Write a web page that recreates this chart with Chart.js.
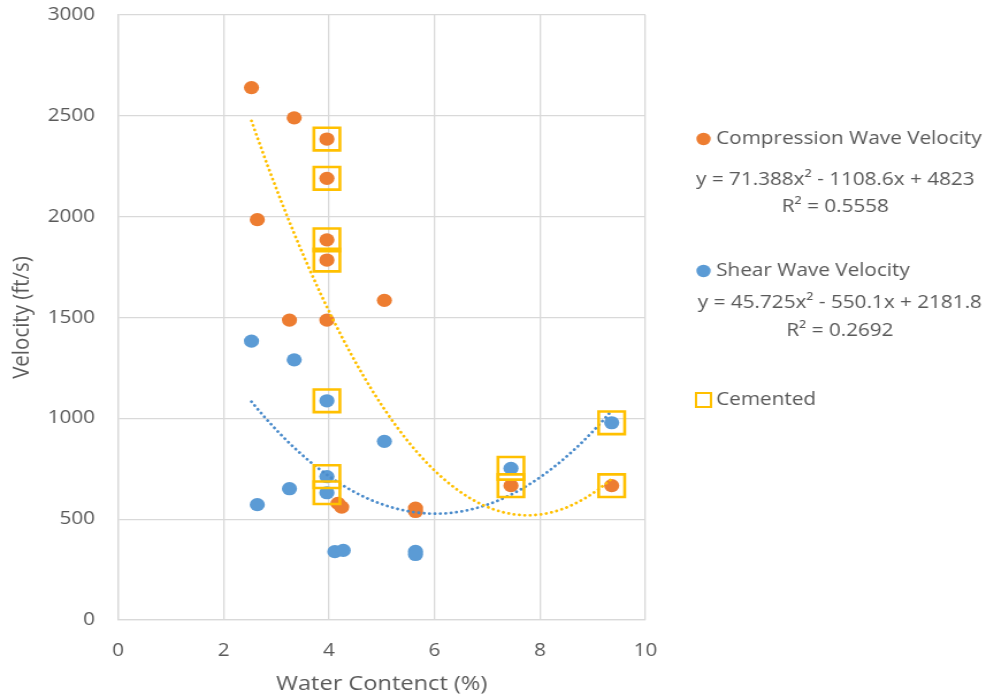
<!DOCTYPE html>
<html>
<head>
<meta charset="utf-8">
<script src="https://cdn.jsdelivr.net/npm/chart.js@4.4.1/dist/chart.umd.min.js"></script>
<style>
  html, body { margin: 0; padding: 0; background: #fff; overflow: hidden; }
  /* the figure is laid out on a narrower canvas and widened horizontally */
  #wrap { width: 864px; height: 700px; transform: scaleX(1.1505); transform-origin: 0 0; }
</style>
</head>
<body>
<div id="wrap"><canvas id="chart" width="864" height="700"></canvas></div>
<script>
// Water content (%) and measured velocities (ft/s)
const compressionX = [2.53, 3.34, 2.64, 3.25, 3.96, 5.05, 4.17, 4.24, 5.64, 5.64, 3.96, 3.96, 3.96, 3.96, 7.45, 9.36];
const compressionY = [2640, 2490, 1985, 1487, 1487, 1585, 578, 560, 555, 538, 2385, 2190, 1885, 1785, 666, 666];

const shearX = [2.53, 3.34, 5.05, 3.25, 2.64, 4.11, 4.27, 5.64, 5.64, 3.96, 3.96, 3.96, 7.45, 9.36];
const shearY = [1383, 1290, 886, 651, 572, 339, 345, 340, 325, 1087, 711, 631, 752, 978];

// cemented samples (outlined)
const cementedX = [3.96, 3.96, 3.96, 3.96, 3.96, 3.96, 3.96, 7.45, 7.45, 9.36, 9.36];
const cementedY = [2385, 2190, 1885, 1785, 1087, 711, 631, 752, 666, 978, 666];

// polynomial trendline coefficients [a, b, c] for y = a x^2 + b x + c
const compressionFit = [71.388, -1108.6, 4823];
const shearFit = [45.725, -550.1, 2181.8];

const xTicks = [0, 2, 4, 6, 8, 10];
const yTicks = [0, 500, 1000, 1500, 2000, 2500, 3000];

const legendText = {
  compression: 'Compression Wave Velocity',
  compressionEq: 'y = 71.388x\u00B2 - 1108.6x + 4823',
  compressionR2: 'R\u00B2 = 0.5558',
  shear: 'Shear Wave Velocity',
  shearEq: 'y = 45.725x\u00B2 - 550.1x + 2181.8',
  shearR2: 'R\u00B2 = 0.2692',
  cemented: 'Cemented'
};

const ORANGE = '#ED7D31';
const BLUE = '#5B9BD5';
const GOLD = '#FFC000';
const TEXT = '#595959';
const GRID = '#D9D9D9';
const FONT = '"Open Sans", "Noto Sans", sans-serif';

const toPoints = (xs, ys) => xs.map((x, i) => ({ x, y: ys[i] }));

// trendline evaluated over the range of the measured water contents
function fitCurve(coef, xs) {
  const lo = Math.min(...xs), hi = Math.max(...xs);
  const pts = [];
  const n = 120;
  for (let i = 0; i <= n; i++) {
    const x = lo + (hi - lo) * i / n;
    pts.push({ x, y: coef[0] * x * x + coef[1] * x + coef[2] });
  }
  return pts;
}

const sideLegend = {
  id: 'sideLegend',
  afterDraw(chart) {
    const ctx = chart.ctx;
    ctx.save();
    ctx.font = '18px ' + FONT;
    ctx.fillStyle = TEXT;
    ctx.textBaseline = 'middle';

    const markX = 611.5, textX = 622.5;

    // compression wave entry
    ctx.fillStyle = ORANGE;
    ctx.beginPath(); ctx.arc(markX, 139, 6.2, 0, Math.PI * 2); ctx.fill();
    ctx.fillStyle = TEXT;
    ctx.textAlign = 'left';
    ctx.fillText(legendText.compression, textX, 139);
    ctx.textAlign = 'center';
    ctx.fillText(legendText.compressionEq, 726, 180);
    ctx.fillText(legendText.compressionR2, 726, 207);

    // shear wave entry
    ctx.fillStyle = BLUE;
    ctx.beginPath(); ctx.arc(markX, 271, 6.2, 0, Math.PI * 2); ctx.fill();
    ctx.fillStyle = TEXT;
    ctx.textAlign = 'left';
    ctx.fillText(legendText.shear, textX, 271);
    ctx.textAlign = 'center';
    ctx.fillText(legendText.shearEq, 730, 303);
    ctx.fillText(legendText.shearR2, 730, 331);

    // cemented entry
    ctx.strokeStyle = GOLD;
    ctx.lineWidth = 2;
    ctx.strokeRect(markX - 6.5, 400 - 7, 13, 14);
    ctx.textAlign = 'left';
    ctx.fillText(legendText.cemented, textX, 400);

    ctx.restore();
  }
};

new Chart(document.getElementById('chart'), {
  type: 'scatter',
  data: {
    datasets: [
      {
        label: 'Cemented',
        data: toPoints(cementedX, cementedY),
        pointStyle: 'rect',
        pointRadius: 16,
        pointBackgroundColor: 'rgba(0,0,0,0)',
        pointBorderColor: GOLD,
        pointBorderWidth: 2.6,
        order: 0
      },
      {
        label: 'Poly. (Compression Wave Velocity)',
        data: fitCurve(compressionFit, compressionX),
        showLine: true,
        pointRadius: 0,
        borderColor: GOLD,
        borderWidth: 2.8,
        borderDash: [0.1, 4.6],
        borderCapStyle: 'round',
        tension: 0,
        order: 1
      },
      {
        label: 'Poly. (Shear Wave Velocity)',
        data: fitCurve(shearFit, shearX),
        showLine: true,
        pointRadius: 0,
        borderColor: '#4A8BCB',
        borderWidth: 2.8,
        borderDash: [0.1, 4.6],
        borderCapStyle: 'round',
        tension: 0,
        order: 1
      },
      {
        label: 'Shear Wave Velocity',
        data: toPoints(shearX, shearY),
        pointStyle: 'circle',
        pointRadius: 6.6,
        pointBorderWidth: 0,
        pointBackgroundColor: BLUE,
        order: 2
      },
      {
        label: 'Compression Wave Velocity',
        data: toPoints(compressionX, compressionY),
        pointStyle: 'circle',
        pointRadius: 6.6,
        pointBorderWidth: 0,
        pointBackgroundColor: ORANGE,
        order: 3
      }
    ]
  },
  options: {
    responsive: false,
    animation: false,
    events: [],
    layout: { autoPadding: false, padding: { left: 0, top: 15, right: 303, bottom: 0 } },
    plugins: {
      legend: { display: false },
      tooltip: { enabled: false }
    },
    scales: {
      x: {
        type: 'linear',
        min: 0, max: 10,
        afterBuildTicks: (s) => { s.ticks = xTicks.map(v => ({ value: v })); },
        afterFit: (s) => { s.height = 80; },
        grid: { color: GRID, lineWidth: 1.3, drawTicks: false },
        border: { color: GRID, width: 1.3 },
        ticks: { color: TEXT, font: { family: FONT, size: 18 }, padding: 20 },
        title: {
          display: true,
          text: 'Water Contenct (%)',
          color: TEXT,
          font: { family: FONT, size: 20.5 },
          padding: { top: 0, bottom: 4 }
        }
      },
      y: {
        type: 'linear',
        min: 0, max: 3000,
        afterBuildTicks: (s) => { s.ticks = yTicks.map(v => ({ value: v })); },
        afterFit: (s) => { s.width = 102.6; },
        // invisible tick marks keep the labels clear of the plot edge
        grid: { color: GRID, lineWidth: 1.3, drawTicks: true, tickLength: 20, tickColor: 'rgba(0,0,0,0)' },
        border: { color: GRID, width: 1.3 },
        ticks: { color: TEXT, font: { family: FONT, size: 18 }, padding: 0, callback: (v) => String(v) },
        title: {
          display: true,
          text: 'Velocity (ft/s)',
          color: TEXT,
          font: { family: FONT, size: 20.5 },
          padding: { top: 7, bottom: 0 }
        }
      }
    }
  },
  plugins: [sideLegend]
});
</script>
</body>
</html>
